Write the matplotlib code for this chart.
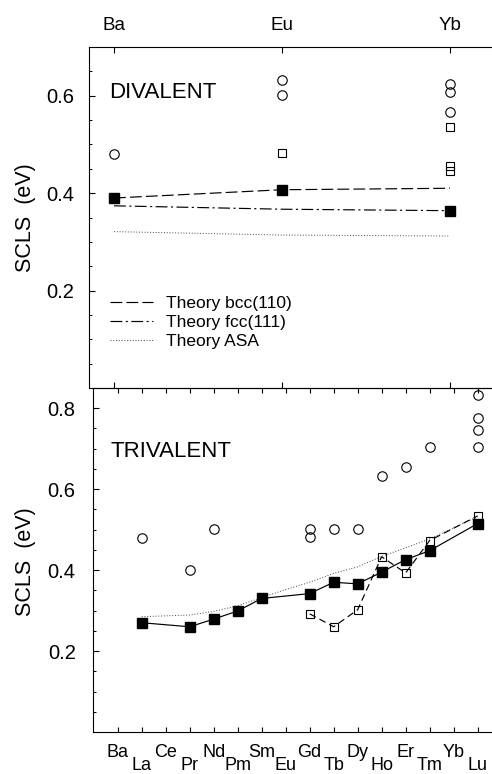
import matplotlib
matplotlib.use("Agg")
import matplotlib.pyplot as plt
from matplotlib.ticker import MultipleLocator, FixedLocator, NullFormatter

plt.rcParams['font.family'] = ['Liberation Sans', 'DejaVu Sans']
plt.rcParams['lines.scale_dashes'] = False

# ---------------- data ----------------
elements = ['Ba', 'La', 'Ce', 'Pr', 'Nd', 'Pm', 'Sm', 'Eu',
            'Gd', 'Tb', 'Dy', 'Ho', 'Er', 'Tm', 'Yb', 'Lu']

# Divalent panel
div_elements = ['Ba', 'Eu', 'Yb']
div_bcc = [0.390, 0.407, 0.410]
div_fcc = [0.374, 0.367, 0.364]
div_asa = [0.321, 0.314, 0.312]
div_theory_pref = [0.390, 0.407, 0.364]
div_circle_el = ['Ba', 'Eu', 'Eu', 'Yb', 'Yb', 'Yb']
div_circle_val = [0.480, 0.632, 0.602, 0.625, 0.607, 0.566]
div_square_el = ['Eu', 'Yb', 'Yb', 'Yb']
div_square_val = [0.482, 0.535, 0.456, 0.445]

# Trivalent panel
tri_filled_el = ['La', 'Pr', 'Nd', 'Pm', 'Sm', 'Gd', 'Tb', 'Dy', 'Ho', 'Er', 'Tm', 'Lu']
tri_filled = [0.270, 0.260, 0.279, 0.299, 0.330, 0.342, 0.370, 0.366, 0.395, 0.426, 0.448, 0.515]
tri_open_el = ['Gd', 'Tb', 'Dy', 'Ho', 'Er', 'Tm', 'Lu']
tri_open = [0.292, 0.260, 0.302, 0.433, 0.393, 0.473, 0.534]
tri_asa_el = ['La', 'Pr', 'Nd', 'Pm', 'Sm', 'Eu', 'Gd', 'Tb', 'Dy', 'Ho', 'Er', 'Tm', 'Lu']
tri_asa = [0.285, 0.289, 0.298, 0.312, 0.332, 0.352, 0.370, 0.392, 0.408, 0.434, 0.455, 0.477, 0.532]
tri_circle_el = ['La', 'Pr', 'Nd', 'Gd', 'Gd', 'Tb', 'Dy', 'Ho', 'Er', 'Tm', 'Lu', 'Lu', 'Lu', 'Lu']
tri_circle_val = [0.480, 0.400, 0.502, 0.502, 0.481, 0.502, 0.502, 0.633, 0.654, 0.704,
                  0.705, 0.745, 0.776, 0.832]

idx = {e: i for i, e in enumerate(elements)}
def X(lst):
    return [idx[e] for e in lst]

# ---------------- styles ----------------
DASH = (0, (8.5, 3.0))
DASHDOT = (0, (8.5, 2.5, 1.5, 2.5))
DOT = (0, (0.7, 1.3))
SHORTDASH = (0, (5, 3))
lw = 0.85

fig = plt.figure(figsize=(4.92, 7.74), dpi=100)
W, H = 492.0, 774.0
ax1 = fig.add_axes([89 / W, 1 - 388 / H, (W - 89) / W, (388 - 47) / H])
ax2 = fig.add_axes([93 / W, 1 - 732 / H, (W - 93) / W, (732 - 388) / H])

for ax in (ax1, ax2):
    ax.spines['right'].set_visible(False)
    for s in ('left', 'top', 'bottom'):
        ax.spines[s].set_linewidth(0.8)
    ax.set_facecolor('none')

# ---------------- divalent ----------------
xd = X(div_elements)
ax1.plot(xd, div_bcc, color='black', lw=lw, ls=DASH, label='Theory bcc(110)')
ax1.plot(xd, div_fcc, color='black', lw=lw, ls=DASHDOT, label='Theory fcc(111)')
ax1.plot(xd, div_asa, color='#444444', lw=0.7, ls=DOT, label='Theory ASA')
ax1.plot(xd, div_theory_pref, ls='none', marker='s', ms=7, color='black', zorder=4)
ax1.plot(X(div_circle_el), div_circle_val, ls='none', marker='o', ms=6.8,
         mfc='none', mec='black', mew=0.8)
ax1.plot(X(div_square_el), div_square_val, ls='none', marker='s', ms=6.0,
         mfc='none', mec='black', mew=0.8)

ax1.set_xlim(-1.042, 15.75)
ax1.set_ylim(0.0, 0.70)
ax1.xaxis.set_major_locator(FixedLocator(xd))
ax1.set_xticklabels(div_elements)
ax1.tick_params(axis='x', which='major', direction='in', top=True, bottom=True,
                labeltop=True, labelbottom=False, length=4, width=0.8,
                pad=9.0, labelsize=13.5)
ax1.yaxis.set_major_locator(FixedLocator([0.2, 0.4, 0.6]))
ax1.yaxis.set_minor_locator(MultipleLocator(0.05))
ax1.set_yticklabels(['0.2', '0.4', '0.6'])
ax1.tick_params(axis='y', which='major', direction='in', left=True, right=False,
                length=4.3, width=0.8, pad=10.5, labelsize=14.5)
ax1.tick_params(axis='y', which='minor', direction='in', left=True, right=False,
                length=2.4, width=0.7)

ax1.text(0.05, 0.868, 'DIVALENT', transform=ax1.transAxes, fontsize=16,
         ha='left', va='center')
leg = ax1.legend(loc='center left', bbox_to_anchor=(0.052, 0.1915), frameon=False,
                 fontsize=12.5, handlelength=2.5, handletextpad=0.75,
                 labelspacing=0.22, borderpad=0, borderaxespad=0)

# ---------------- trivalent ----------------
ax2.plot(X(tri_asa_el), tri_asa, color='#444444', lw=0.7, ls=DOT)
ax2.plot(X(tri_open_el), tri_open, color='black', lw=lw, ls=SHORTDASH,
         marker='s', ms=6.0, mfc='none', mec='black', mew=0.8)
ax2.plot(X(tri_filled_el), tri_filled, color='black', lw=lw, ls='-',
         marker='s', ms=7, mfc='black', mec='black', zorder=4)
ax2.plot(X(tri_circle_el), tri_circle_val, ls='none', marker='o', ms=6.8,
         mfc='none', mec='black', mew=0.8)

ax2.set_xlim(-1.03, 15.6)
ax2.set_ylim(0.0, 0.85)
even = list(range(0, len(elements), 2))
odd = list(range(1, len(elements), 2))
ax2.set_xticks(even)
ax2.set_xticklabels([elements[i] for i in even])
ax2.set_xticks(odd, minor=True)
ax2.set_xticklabels([elements[i] for i in odd], minor=True)
ax2.tick_params(axis='x', which='major', direction='in', top=True, bottom=True,
                length=3.6, width=0.8, pad=8.4, labelsize=13)
ax2.tick_params(axis='x', which='minor', direction='in', top=True, bottom=True,
                length=3.6, width=0.8, pad=17.8, labelsize=13)
ax2.yaxis.set_major_locator(FixedLocator([0.2, 0.4, 0.6, 0.8]))
ax2.yaxis.set_minor_locator(MultipleLocator(0.05))
ax2.set_yticklabels(['0.2', '0.4', '0.6', '0.8'])
ax2.yaxis.set_minor_formatter(NullFormatter())
ax2.tick_params(axis='y', which='major', direction='in', left=True, right=False,
                length=4.3, width=0.8, pad=12.5, labelsize=14.5)
ax2.tick_params(axis='y', which='minor', direction='in', left=True, right=False,
                length=2.4, width=0.7)

ax2.text(0.043, 0.815, 'TRIVALENT', transform=ax2.transAxes, fontsize=16,
         ha='left', va='center')

# y labels
fig.text(25 / W, 1 - 218 / H, 'SCLS  (eV)', rotation=90, ha='center', va='center',
         fontsize=15.5)
fig.text(25 / W, 1 - 562 / H, 'SCLS  (eV)', rotation=90, ha='center', va='center',
         fontsize=15.5)

fig.savefig('out.png', dpi=100, facecolor='white')
